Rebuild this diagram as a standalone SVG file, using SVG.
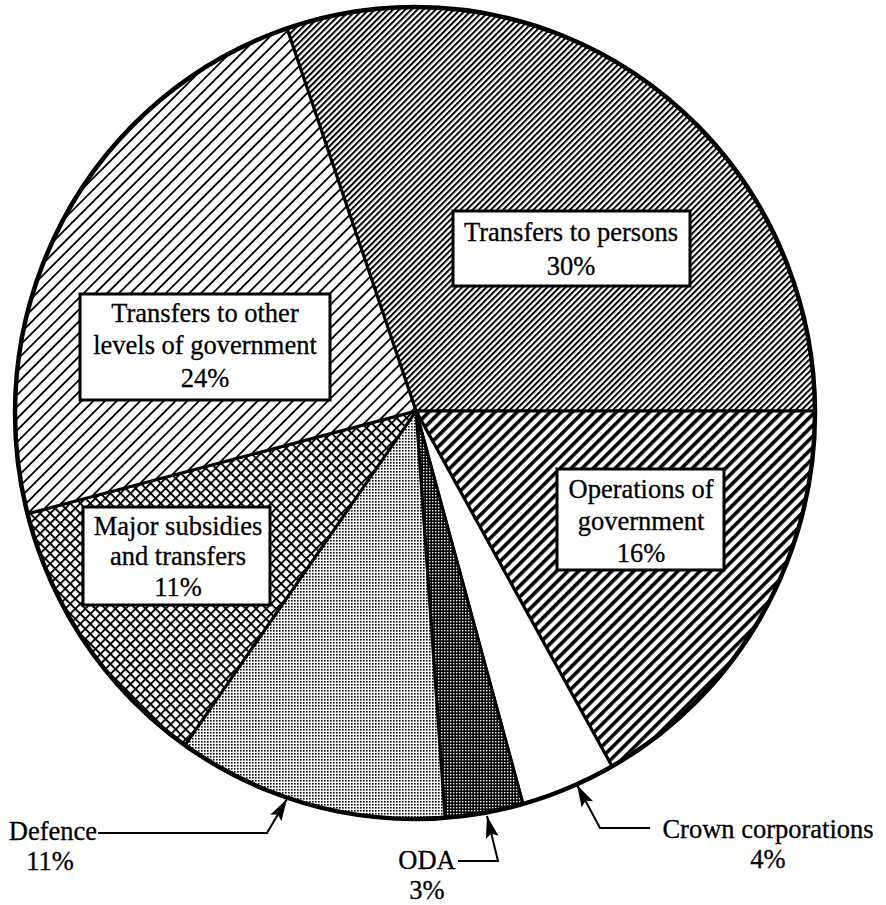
<svg xmlns="http://www.w3.org/2000/svg" width="886" height="905" viewBox="0 0 886 905">
<style>
text { font-family: "Liberation Serif", "Times New Roman", serif; font-size: 26.5px; fill: #000; stroke: #000; stroke-width: 0.3; text-anchor: middle; }
.slice { stroke: #000; stroke-width: 3; stroke-linejoin: round; }
.box { fill: #fff; stroke: #000; stroke-width: 3; }
.leader { fill: none; stroke: #000; stroke-width: 2; marker-end: url(#arrow); }
</style>
<defs>
<pattern id="hatchFine" patternUnits="userSpaceOnUse" width="10" height="4.3" patternTransform="rotate(-45)">
<rect width="10" height="4.3" fill="#fff"/><rect width="10" height="2" fill="#000"/>
</pattern>
<pattern id="hatchWide" patternUnits="userSpaceOnUse" width="10" height="8.3" patternTransform="rotate(-45)">
<rect width="10" height="8.3" fill="#fff"/><rect width="10" height="1.8" fill="#000"/>
</pattern>
<pattern id="hatchBold" patternUnits="userSpaceOnUse" width="10" height="7.8" patternTransform="rotate(-45)">
<rect width="10" height="7.8" fill="#fff"/><rect width="10" height="3.6" fill="#000"/>
</pattern>
<pattern id="cross" patternUnits="userSpaceOnUse" width="7.1" height="7.1" patternTransform="rotate(45)">
<rect width="7.1" height="7.1" fill="#fff"/><rect width="7.1" height="1.9" fill="#000"/><rect width="1.9" height="7.1" fill="#000"/>
</pattern>
<pattern id="dotLight" patternUnits="userSpaceOnUse" width="3" height="3">
<rect width="3" height="3" fill="#fff"/><rect width="1.6" height="1.6" fill="#000"/>
</pattern>
<pattern id="dotDark" patternUnits="userSpaceOnUse" width="3" height="3">
<rect width="3" height="3" fill="#000"/><rect width="1.4" height="1.4" fill="#fff"/>
</pattern>
<marker id="arrow" markerUnits="userSpaceOnUse" markerWidth="24" markerHeight="16" refX="22" refY="8" orient="auto" viewBox="0 0 24 16">
<path d="M0,1.5 L22,8 L0,14.5 L4,8 Z" fill="#000"/>
</marker>
</defs>
<rect width="886" height="905" fill="#fff"/>

<g id="slice-persons">
<path class="slice" fill="url(#hatchFine)" d="M416,411 L287,28.4 A400,406 0 0 1 815,411 Z"/>
</g>
<g id="slice-operations">
<path class="slice" fill="url(#hatchBold)" d="M416,411 L815,411 A400,406 0 0 1 612,766.4 Z"/>
</g>
<g id="slice-crown">
<path class="slice" fill="#fff" d="M416,411 L612,766.4 A400,406 0 0 1 523,803.9 Z"/>
</g>
<g id="slice-oda">
<path class="slice" fill="url(#dotDark)" d="M416,411 L523,803.9 A400,406 0 0 1 445,817.9 Z"/>
</g>
<g id="slice-defence">
<path class="slice" fill="url(#dotLight)" d="M416,411 L445,817.9 A400,406 0 0 1 185,745.2 Z"/>
</g>
<g id="slice-major">
<path class="slice" fill="url(#cross)" d="M416,411 L185,745.2 A400,406 0 0 1 27.5,513.7 Z"/>
</g>
<g id="slice-other-levels">
<path class="slice" fill="url(#hatchWide)" d="M416,411 L27.5,513.7 A400,406 0 0 1 287,28.4 Z"/>
</g>
<ellipse cx="415" cy="413" rx="400" ry="406" fill="none" stroke="#000" stroke-width="4.5"/>

<g id="label-persons">
<rect class="box" x="453" y="211" width="237" height="75"/>
<text x="571" y="241">Transfers to persons</text>
<text x="571" y="275">30%</text>
</g>
<g id="label-other-levels">
<rect class="box" x="80" y="294" width="250" height="106"/>
<text x="205" y="322">Transfers to other</text>
<text x="205" y="354">levels of government</text>
<text x="205" y="387">24%</text>
</g>
<g id="label-major">
<rect class="box" x="83" y="507" width="187" height="98"/>
<text x="178" y="535">Major subsidies</text>
<text x="178" y="565">and transfers</text>
<text x="178" y="596">11%</text>
</g>
<g id="label-operations">
<rect class="box" x="557" y="469" width="167" height="101"/>
<text x="641" y="498">Operations of</text>
<text x="641" y="530">government</text>
<text x="641" y="562">16%</text>
</g>
<g id="label-defence">
<text x="53" y="840">Defence</text>
<text x="50" y="870">11%</text>
</g>
<g id="label-oda">
<text x="427" y="869">ODA</text>
<text x="427" y="899">3%</text>
</g>
<g id="label-crown">
<text x="768" y="838">Crown corporations</text>
<text x="768" y="868">4%</text>
</g>

<g id="connectors">
<polyline class="leader" points="98,833 267,833 287,799"/>
<polyline class="leader" points="458,861 498,861 487,816"/>
<polyline class="leader" points="650,828 600,828 577,785"/>
</g>
</svg>
